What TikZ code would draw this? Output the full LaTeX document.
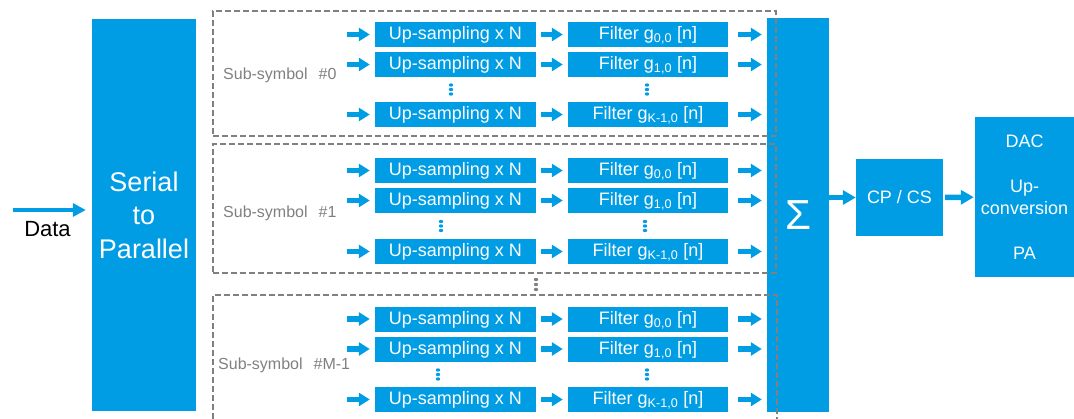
\documentclass[tikz,border=0pt]{standalone}
\usepackage{fontspec}
\setmainfont{Liberation Sans}
\usetikzlibrary{arrows.meta}
\definecolor{bl}{RGB}{0,157,229}
\definecolor{dgray}{RGB}{128,128,128}
\begin{document}
\begin{tikzpicture}[x=1pt,y=-1pt,
  blk/.style={fill=bl,text=white,inner sep=0pt,anchor=center},
  usbox/.style={blk,minimum width=161pt,minimum height=25pt,text height=13pt,text depth=2.5pt,font=\fontsize{18}{20}\selectfont},
  filtbox/.style={blk,minimum width=160pt,minimum height=25pt,text height=13pt,text depth=2.5pt,font=\fontsize{18}{20}\selectfont},
  grp/.style={draw=dgray,line width=1.8pt,dash pattern=on 6pt off 3pt,inner sep=0pt},
  barrow/.style={draw=bl,line width=5.5pt,-{Triangle[length=11pt,width=13pt]}},
  bigarrow/.style={draw=bl,line width=5.5pt,-{Triangle[length=13pt,width=14pt]}},
  darrow/.style={draw=bl,line width=3.5pt,-{Triangle[length=13pt,width=13pt]}},
  lbl/.style={text=dgray,inner sep=0pt,anchor=base west,font=\fontsize{16}{18}\selectfont},
  vdot/.style={fill=bl},
  gdot/.style={fill=dgray}]
\useasboundingbox (0,0) rectangle (1074,418);
\clip (0,0) rectangle (1074,418);

% main blocks
\node[blk,minimum width=104pt,minimum height=392pt,align=center,
      font=\fontsize{27}{33.5}\selectfont] (sp) at (144,215) {Serial\\to\\Parallel};
\node[blk,minimum width=62pt,minimum height=394pt,
      font=\fontsize{42}{42}\selectfont] (sigma) at (798,215) {\raisebox{-2pt}{Σ}};
\node[blk,minimum width=87pt,minimum height=77pt,
      font=\fontsize{18}{22}\selectfont] (cp) at (899.5,197.5) {CP / CS};
\node[blk,minimum width=99pt,minimum height=160pt,align=center,
      font=\fontsize{18}{22}\selectfont] (dac) at (1024.5,197) {DAC\\[23pt]Up-\\conversion\\[23pt]PA};

% data input
\coordinate (din) at (13,210);
\draw[darrow,shorten >=6pt] (din) -- (din -| sp.west);
\node[inner sep=0pt,font=\fontsize{22}{24}\selectfont] (dl) at (47.5,229.5) {Data};

% output chain
\draw[bigarrow] (sigma.east |- cp) -- (cp);
\draw[bigarrow,shorten <=2pt,shorten >=1pt] (cp) -- (dac);

% groups (dashed)
\node[grp,minimum width=563pt,minimum height=125pt] (g0) at (494.5,73.5) {};
\node[grp,minimum width=563pt,minimum height=129pt] (g1) at (494.5,208.5) {};
\node[grp,minimum width=564pt,minimum height=140pt] (g2) at (495,365) {};

\node[lbl] (l0) at (223,79) {Sub-symbol\hspace{11pt}\#0};
\node[lbl] (l1) at (223,217) {Sub-symbol\hspace{11pt}\#1};
\node[lbl] (l2) at (218,369) {Sub-symbol\hspace{11pt}\#M-1};

% rows
\foreach \g/\ya/\yb/\yc/\yd/\ux/\fx in {0/34.5/64.5/114.5/89.5/451/647,
                                        1/170.5/200.5/251.5/226/441/645,
                                        2/319/349/399.5/374.5/438/647} {
  \foreach \r/\y/\k in {a/\ya/0, b/\yb/1, c/\yc/K-1} {
    \coordinate (in\g\r) at (347,\y);
    \node[usbox] (u\g\r) at (455.5,\y) {Up-sampling x N};
    \node[filtbox] (f\g\r) at (648,\y) {Filter g\textsubscript{\k,0} [n]};
    \draw[barrow,shorten >=5pt] (in\g\r) -- (u\g\r);
    \draw[barrow,shorten <=5pt,shorten >=5pt] (u\g\r) -- (f\g\r);
    \draw[barrow,shorten <=10pt,shorten >=5pt] (f\g\r) -- (f\g\r -| sigma.west);
  }
  \foreach \dy in {-4.5,0,4.5} {
    \fill[vdot] (\ux,\yd+\dy) ellipse (2.2pt and 1.7pt);
    \fill[vdot] (\fx,\yd+\dy) ellipse (2.2pt and 1.7pt);
  }
}

% dots between groups
\foreach \dy in {279.5,284.5,289.5} {
  \fill[gdot] (536,\dy) ellipse (2.2pt and 1.7pt);
}
\end{tikzpicture}
\end{document}
